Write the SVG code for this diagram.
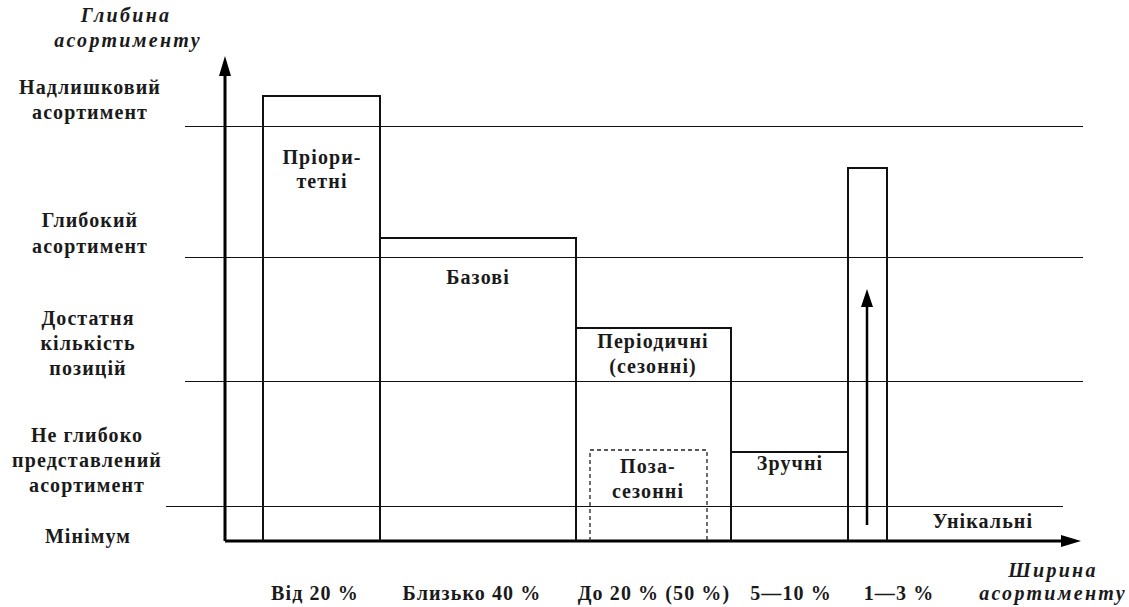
<svg xmlns="http://www.w3.org/2000/svg" width="1129" height="607" viewBox="0 0 1129 607">
<style>
.t{font-family:"Liberation Serif","Times New Roman",serif;font-size:20px;font-weight:bold;letter-spacing:1.1px;fill:#1a1a1a;text-anchor:middle}
.i{font-style:italic;letter-spacing:2.3px}
.grid{stroke:#111;stroke-width:1;fill:none}
.bar{stroke:#111;stroke-width:2;fill:none}
.axis{stroke:#000;stroke-width:3;fill:none}
</style>
<g id="connectors">
<line class="grid" x1="185" y1="126.5" x2="1083" y2="126.5"/>
<line class="grid" x1="185" y1="257.5" x2="1083" y2="257.5"/>
<line class="grid" x1="185" y1="381.5" x2="1083" y2="381.5"/>
<line class="grid" x1="166" y1="506.5" x2="1063" y2="506.5"/>
<line class="axis" x1="225" y1="541" x2="225" y2="75"/>
<path d="M225,56 L231,76 L219,76 Z" fill="#000"/>
<line class="axis" x1="225" y1="541" x2="1062" y2="541"/>
<path d="M1081,541 L1061,535 L1061,547 Z" fill="#000"/>
<line stroke="#000" stroke-width="2.5" x1="867" y1="525" x2="867" y2="305"/>
<path d="M867,289 L873,307 L861,307 Z" fill="#000"/>
</g>
<g id="priority"><path class="bar" d="M263,541 V96 H380 V541"/><text class="t" x="322" y="164">Пріори-</text><text class="t" x="322" y="188">тетні</text></g>
<g id="basic"><path class="bar" d="M380,238 H576 V541"/><text class="t" x="478" y="284">Базові</text></g>
<g id="periodic"><path class="bar" d="M576,328 H731 V541"/><text class="t" x="653" y="348">Періодичні</text><text class="t" x="653" y="373">(сезонні)</text></g>
<g id="offseason"><path d="M590,541 V450 H707 V541" fill="none" stroke="#222" stroke-width="1.3" stroke-dasharray="4,3"/><text class="t" x="648" y="473">Поза-</text><text class="t" x="648" y="498">сезонні</text></g>
<g id="convenient"><path class="bar" d="M731,452 H848 V541"/><text class="t" x="790" y="470">Зручні</text></g>
<g id="unique"><path class="bar" d="M848,541 V168 H887 V541"/><text class="t" x="983" y="528">Унікальні</text></g>
<g id="ylabels">
<text class="t i" x="126" y="22">Глибина</text>
<text class="t i" x="128" y="47">асортименту</text>
<text class="t" x="90" y="94">Надлишковий</text>
<text class="t" x="90" y="119">асортимент</text>
<text class="t" x="90" y="227">Глибокий</text>
<text class="t" x="90" y="253">асортимент</text>
<text class="t" x="88" y="325">Достатня</text>
<text class="t" x="88" y="350">кількість</text>
<text class="t" x="88" y="375">позицій</text>
<text class="t" x="87" y="442">Не глибоко</text>
<text class="t" x="87" y="467">представлений</text>
<text class="t" x="87" y="492">асортимент</text>
<text class="t" x="88" y="543">Мінімум</text>
</g>
<g id="xlabels">
<text class="t" x="315" y="600">Від 20 %</text>
<text class="t" x="472" y="600">Близько 40 %</text>
<text class="t" x="654" y="600">До 20 % (50 %)</text>
<text class="t" x="791" y="600">5—10 %</text>
<text class="t" x="899" y="600">1—3 %</text>
<text class="t i" x="1053" y="577">Ширина</text>
<text class="t i" x="1053" y="600">асортименту</text>
</g>
</svg>
